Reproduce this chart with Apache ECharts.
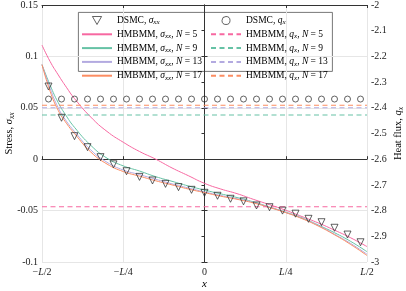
<!DOCTYPE html>
<html><head><meta charset="utf-8">
<script src="https://cdn.jsdelivr.net/npm/echarts@6/dist/echarts.min.js"></script>
<style>html,body{margin:0;padding:0;background:#fff}#c{width:406px;height:291px}</style>
</head><body><div id="c"></div>
<script>
// ---------- data ----------
const xTickValues = [-0.5, -0.25, 0, 0.25, 0.5];
const xTickLabels = ['−{i|L}/2', '−{i|L}/4', '0', '{i|L}/4', '{i|L}/2'];

const dsmcX = [-0.48,-0.44,-0.40,-0.36,-0.32,-0.28,-0.24,-0.20,-0.16,-0.12,-0.08,-0.04,0.00,
               0.04,0.08,0.12,0.16,0.20,0.24,0.28,0.32,0.36,0.40,0.44,0.48];
const dsmcSigma = [0.0707,0.0403,0.0224,0.0117,0.0020,-0.0050,-0.0117,-0.0172,-0.0207,-0.0240,
                   -0.0272,-0.0298,-0.0327,-0.0356,-0.0385,-0.0410,-0.0450,-0.0467,-0.0500,
                   -0.0530,-0.0580,-0.0613,-0.0667,-0.0733,-0.0808];
const dsmcQ = [-2.366,-2.366,-2.366,-2.366,-2.366,-2.366,-2.366,-2.366,-2.366,-2.366,-2.366,-2.366,-2.366,
               -2.366,-2.366,-2.366,-2.366,-2.366,-2.366,-2.366,-2.366,-2.366,-2.366,-2.366,-2.366];

const curveX   = [-0.5,-0.475,-0.45,-0.425,-0.4,-0.35,-0.3,-0.25,-0.2,-0.15,-0.1,-0.05,0,
                  0.05,0.1,0.15,0.2,0.25,0.3,0.35,0.4,0.45,0.5];
const sigmaN5  = [0.111,0.095,0.082,0.070,0.059,0.041,0.027,0.0165,0.0075,0.0000,-0.0085,-0.016,-0.0235,
                  -0.029,-0.0335,-0.039,-0.0442,-0.0497,-0.0558,-0.062,-0.069,-0.0765,-0.085];
const sigmaN9  = [0.092,0.072,0.055,0.042,0.031,0.0135,0.001,-0.0065,-0.0115,-0.017,-0.0215,-0.026,-0.030,
                  -0.0337,-0.0373,-0.0415,-0.0465,-0.0515,-0.057,-0.064,-0.0715,-0.080,-0.090];
const sigmaN13 = [0.092,0.069,0.050,0.037,0.027,0.009,-0.003,-0.0105,-0.015,-0.0195,-0.024,-0.028,-0.0318,
                  -0.0353,-0.0385,-0.042,-0.0468,-0.0518,-0.0575,-0.0645,-0.073,-0.082,-0.0925];
const sigmaN17 = [0.092,0.066,0.0474,0.035,0.025,0.007,-0.0047,-0.012,-0.0165,-0.021,-0.025,-0.029,-0.0325,
                  -0.036,-0.039,-0.0425,-0.047,-0.052,-0.0578,-0.065,-0.0735,-0.083,-0.0937];

const qX = [-0.5, 0.5];
const qN5  = [-2.785, -2.785];
const qN9  = [-2.428, -2.428];
const qN13 = [-2.400, -2.400];
const qN17 = [-2.390, -2.390];

const Ns = [5, 9, 13, 17];
const colors = ['#f768a1', '#66c2a5', '#b3aae0', '#fc8d62'];
// ---------------------------

const font = 'Liberation Serif';
const zip = (xs, ys) => xs.map((x, i) => [x, ys[i]]);
const sigmaArr = [sigmaN5, sigmaN9, sigmaN13, sigmaN17];
const qArr = [qN5, qN9, qN13, qN17];
const markerStyle = {color: 'rgba(0,0,0,0)', borderColor: '#262626', borderWidth: 0.9};

const series = [];
series.push({
  name: 'sDSMC', type: 'scatter', data: zip(dsmcX, dsmcSigma), yAxisIndex: 0,
  symbol: 'triangle', symbolRotate: 180, symbolSize: 7, z: 5, itemStyle: markerStyle
});
Ns.forEach((n, k) => series.push({
  name: 's' + n, type: 'line', data: zip(curveX, sigmaArr[k]), yAxisIndex: 0,
  symbol: 'none', smooth: 0.5, color: colors[k],
  lineStyle: {width: 1, color: colors[k]}
}));
series.push({
  name: 'qDSMC', type: 'scatter', data: zip(dsmcX, dsmcQ), yAxisIndex: 1,
  symbol: 'circle', symbolSize: 6, z: 5, itemStyle: markerStyle
});
Ns.forEach((n, k) => series.push({
  name: 'q' + n, type: 'line', data: zip(qX, qArr[k]), yAxisIndex: 1,
  symbol: 'none', color: colors[k],
  lineStyle: {width: 1.1, color: colors[k], type: [5, 3.5]}
}));

const richLeg = {
  t: {fontFamily: font, fontSize: 9.5, color: '#000', lineHeight: 9},
  i: {fontFamily: font, fontSize: 9.5, fontStyle: 'italic', color: '#000', lineHeight: 9},
  s: {fontFamily: font, fontSize: 7, fontStyle: 'italic', color: '#000', lineHeight: 9, padding: [4, 0, 0, 0]}
};
function legName(name) {
  const q = name[0] === 'q';
  const sym = q ? '{i|q}{s|x}' : '{i|σ}{s|xx}';
  const rest = name.slice(1);
  if (rest === 'DSMC') return '{t|DSMC, }' + sym;
  return '{t|HMBMM, }' + sym + '{t|, }{i|N}{t| = ' + rest + '}';
}
function legData(prefix, icon) {
  const d = [{name: prefix + 'DSMC', icon: icon, itemStyle: markerStyle}];
  Ns.forEach(n => d.push({name: prefix + n, itemStyle: {opacity: 0}}));
  return d;
}
const legCommon = {
  orient: 'vertical', itemWidth: 30, itemHeight: 8, itemGap: 2.8, padding: 0,
  symbolKeepAspect: true,
  formatter: legName, textStyle: {rich: richLeg, fontFamily: font, fontSize: 9.5, lineHeight: 9}
};

const axisColor = '#333';
const nameRich = {
  t: {fontFamily: font, fontSize: 10.5, color: '#000'},
  i: {fontFamily: font, fontSize: 10.5, fontStyle: 'italic', color: '#000'},
  s: {fontFamily: font, fontSize: 7.5, fontStyle: 'italic', color: '#000', padding: [5, 0, 0, 0]}
};
const option = {
  animation: false,
  textStyle: {fontFamily: font},
  grid: {left: 42, right: 39, top: 5, bottom: 29, outerBoundsMode: 'none', containLabel: false},
  legend: [
    Object.assign({left: 81, top: 15, data: legData('s', 'path://M0,0L8,0L4,7Z')}, legCommon),
    Object.assign({left: 210, top: 15, data: legData('q', 'path://M3,0A3,3 0 1 1 2.999,0Z')}, legCommon)
  ],
  graphic: [{
    type: 'rect', left: 78, top: 12, z: 0, silent: true,
    shape: {width: 254, height: 59},
    style: {fill: '#fff', stroke: '#555', lineWidth: 0.8}
  }],
  xAxis: [{
    type: 'value', min: -0.5, max: 0.5, interval: 0.25,
    name: 'x', nameLocation: 'middle', nameGap: 17, nameMoveOverlap: false,
    nameTextStyle: {fontFamily: font, fontSize: 11, fontStyle: 'italic', color: '#000'},
    axisLine: {show: true, lineStyle: {color: axisColor, width: 1}},
    axisTick: {show: true, inside: true, length: 3, lineStyle: {color: axisColor}},
    splitLine: {show: true, lineStyle: {color: '#e6e6e6', width: 1}},
    axisLabel: {
      fontFamily: font, fontSize: 10, color: '#222', margin: 5,
      formatter: v => xTickLabels[xTickValues.findIndex(t => Math.abs(t - v) < 1e-9)],
      rich: {i: {fontFamily: font, fontSize: 10, fontStyle: 'italic', color: '#222'}}
    }
  }, {
    type: 'value', min: -0.5, max: 0.5, interval: 0.25, position: 'top',
    axisLine: {show: true, lineStyle: {color: axisColor, width: 1}},
    axisTick: {show: true, inside: true, length: 3, lineStyle: {color: axisColor}},
    axisLabel: {show: false}, splitLine: {show: false}
  }],
  yAxis: [{
    type: 'value', min: -0.1, max: 0.15, interval: 0.05, position: 'left',
    name: '{t|Stress, }{i|σ}{s|xx}', nameLocation: 'middle', nameGap: 26, nameRotate: 90,
    nameMoveOverlap: false,
    nameTextStyle: {rich: nameRich},
    axisLine: {show: true, lineStyle: {color: axisColor, width: 1}},
    axisTick: {show: true, inside: true, length: 3, lineStyle: {color: axisColor}},
    splitLine: {show: true, lineStyle: {color: '#e6e6e6', width: 1}},
    axisLabel: {fontFamily: font, fontSize: 10, color: '#222', margin: 4,
      formatter: v => String(+v.toFixed(2))}
  }, {
    type: 'value', min: -3, max: -2, interval: 0.1, position: 'right',
    name: '{t|Heat flux, }{i|q}{s|x}', nameLocation: 'middle', nameGap: 25, nameRotate: 90,
    nameMoveOverlap: false,
    nameTextStyle: {rich: nameRich},
    axisLine: {show: true, lineStyle: {color: axisColor, width: 1}},
    axisTick: {show: true, inside: true, length: 3, lineStyle: {color: axisColor}},
    splitLine: {show: false},
    axisLabel: {fontFamily: font, fontSize: 10, color: '#222', margin: 4,
      formatter: v => String(+v.toFixed(1))}
  }],
  series: series
};
const chart = echarts.init(document.getElementById('c'), null, {renderer: 'canvas'});
chart.setOption(option);
</script></body></html>
